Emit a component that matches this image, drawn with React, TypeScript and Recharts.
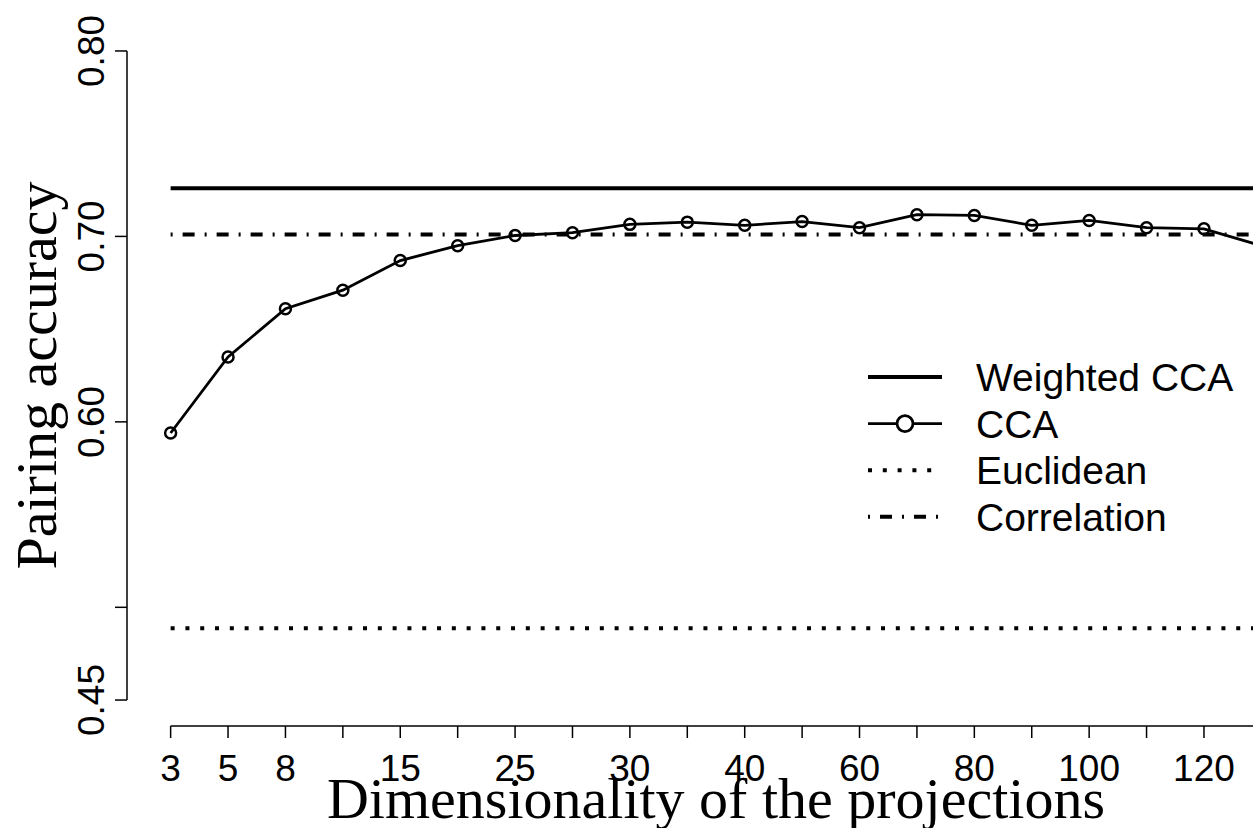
import React from 'react';
import { LineChart, Line, XAxis, YAxis, ReferenceLine } from 'recharts';

// projection sizes on the x axis (evenly spaced, only some are labelled)
const dims = ['3', '5', '8', '10', '15', '20', '25', '27', '30', '35', '40', '50', '60', '70', '80', '90', '100', '110', '120', '130'];
const labeledDims = ['3', '5', '8', '15', '25', '30', '40', '60', '80', '100', '120'];

const ccaAccuracy = [
  0.594, 0.635, 0.661, 0.671, 0.687, 0.695, 0.7005, 0.702, 0.7065, 0.7077,
  0.706, 0.708, 0.7047, 0.7117, 0.7113, 0.706, 0.7086, 0.7047, 0.7041, 0.695,
];
const weightedCcaAccuracy = 0.726;
const euclideanAccuracy = 0.4887;
const correlationAccuracy = 0.701;

const yTicks = [0.45, 0.5, 0.6, 0.7, 0.8];
const yTickLabels = ['0.45', '', '0.60', '0.70', '0.80'];

const legendNames = ['Weighted CCA', 'CCA', 'Euclidean', 'Correlation'];

const SANS = '"Liberation Sans", Arial, Helvetica, sans-serif';
const SERIF = '"Liberation Serif", "Times New Roman", serif';

const styles: Record<string, { width: number; dash?: string; cap?: 'butt' | 'round'; circle?: boolean }> = {
  weighted: { width: 4 },
  cca: { width: 2.8, circle: true },
  euclidean: { width: 4, dash: '4 10.8', cap: 'butt' },
  correlation: { width: 4, dash: '2 10 12 10', cap: 'butt' },
};
const legendKeys = ['weighted', 'cca', 'euclidean', 'correlation'];

const data = dims.map((d, i) => ({
  idx: i,
  dim: d,
  cca: ccaAccuracy[i],
  weighted: weightedCcaAccuracy,
  euclidean: euclideanAccuracy,
  correlation: correlationAccuracy,
}));

// R style axes: data range padded by 4% on each side
const lastIdx = dims.length - 1;
const xPad = lastIdx * 0.04;
const xDomain = [-xPad, lastIdx + xPad];
const yPad = (yTicks[yTicks.length - 1] - yTicks[0]) * 0.04;
const yDomain = [yTicks[0] - yPad, yTicks[yTicks.length - 1] + yPad];

const XTick = ({ x, y, payload }: any) => {
  const label = dims[payload.value];
  if (!labeledDims.includes(label)) return <g />;
  return (
    <text x={x} y={y + 43} textAnchor="middle" fontFamily={SANS} fontSize={37} fill="#000">
      {label}
    </text>
  );
};

const YTick = ({ x, y, payload }: any) => {
  const label = yTickLabels[yTicks.indexOf(payload.value)];
  if (!label) return <g />;
  const cx = x - 11;
  return (
    <text x={cx} y={y} transform={`rotate(-90, ${cx}, ${y})`} textAnchor="middle" fontFamily={SANS} fontSize={37} fill="#000">
      {label}
    </text>
  );
};

const XTitle = ({ viewBox }: any) => (
  <text x={viewBox.x + viewBox.width / 2} y={viewBox.y + 92} textAnchor="middle" fontFamily={SERIF} fontSize={58} fill="#000">
    Dimensionality of the projections
  </text>
);

const YTitle = ({ viewBox }: any) => {
  const cx = viewBox.x + 56;
  const cy = viewBox.y + viewBox.height / 2;
  return (
    <text x={cx} y={cy} transform={`rotate(-90, ${cx}, ${cy})`} textAnchor="middle" fontFamily={SERIF} fontSize={58} fill="#000">
      Pairing accuracy
    </text>
  );
};

const LegendBox = () => (
  <svg width={400} height={200} style={{ position: 'absolute', left: 858, top: 350 }}>
    {legendKeys.map((key, i) => {
      const s = styles[key];
      const cy = 27 + i * 46.6;
      return (
        <g key={key}>
          <line x1={10} x2={84} y1={cy} y2={cy} stroke="#000" strokeWidth={s.width} strokeDasharray={s.dash} strokeLinecap={s.cap || 'butt'} />
          {s.circle && <circle cx={47} cy={cy} r={8} fill="#fff" stroke="#000" strokeWidth={2.8} />}
          <text x={118} y={cy + 14} fontFamily={SANS} fontSize={39} fill="#000">{legendNames[i]}</text>
        </g>
      );
    })}
  </svg>
);

export default function App() {
  return (
    <div style={{ position: 'fixed', left: 0, top: 0, width: 1253, height: 828, overflow: 'hidden', background: '#fff' }}>
      <LineChart width={1320} height={828} data={data} margin={{ top: 25, right: 15, bottom: 0, left: 0 }}>
        <XAxis
          type="number"
          dataKey="idx"
          domain={xDomain}
          ticks={dims.map((_, i) => i)}
          axisLine={false}
          tickLine={{ stroke: '#000', strokeWidth: 1.5 }}
          tickSize={12}
          tickMargin={0}
          tick={<XTick />}
          height={102}
          interval={0}
          label={<XTitle />}
        />
        <YAxis
          type="number"
          domain={yDomain}
          ticks={yTicks}
          axisLine={false}
          tickLine={{ stroke: '#000', strokeWidth: 1.5 }}
          tickSize={12}
          tickMargin={0}
          tick={<YTick />}
          width={127}
          interval={0}
          label={<YTitle />}
        />
        <ReferenceLine
          segment={[{ x: xDomain[0], y: yTicks[0] }, { x: xDomain[0], y: yTicks[yTicks.length - 1] }]}
          stroke="#000"
          strokeWidth={1.5}
          ifOverflow="visible"
        />
        <ReferenceLine
          segment={[{ x: 0, y: yDomain[0] }, { x: lastIdx, y: yDomain[0] }]}
          stroke="#000"
          strokeWidth={1.5}
          ifOverflow="visible"
        />
        <Line dataKey="correlation" stroke="#000" strokeWidth={styles.correlation.width} strokeDasharray={styles.correlation.dash} dot={false} isAnimationActive={false} />
        <Line dataKey="euclidean" stroke="#000" strokeWidth={styles.euclidean.width} strokeDasharray={styles.euclidean.dash} dot={false} isAnimationActive={false} />
        <Line dataKey="weighted" stroke="#000" strokeWidth={styles.weighted.width} dot={false} isAnimationActive={false} />
        <Line
          dataKey="cca"
          stroke="#000"
          strokeWidth={styles.cca.width}
          dot={{ r: 5.5, stroke: '#000', strokeWidth: 2.5, fill: 'none' }}
          isAnimationActive={false}
        />
      </LineChart>
      <LegendBox />
    </div>
  );
}
